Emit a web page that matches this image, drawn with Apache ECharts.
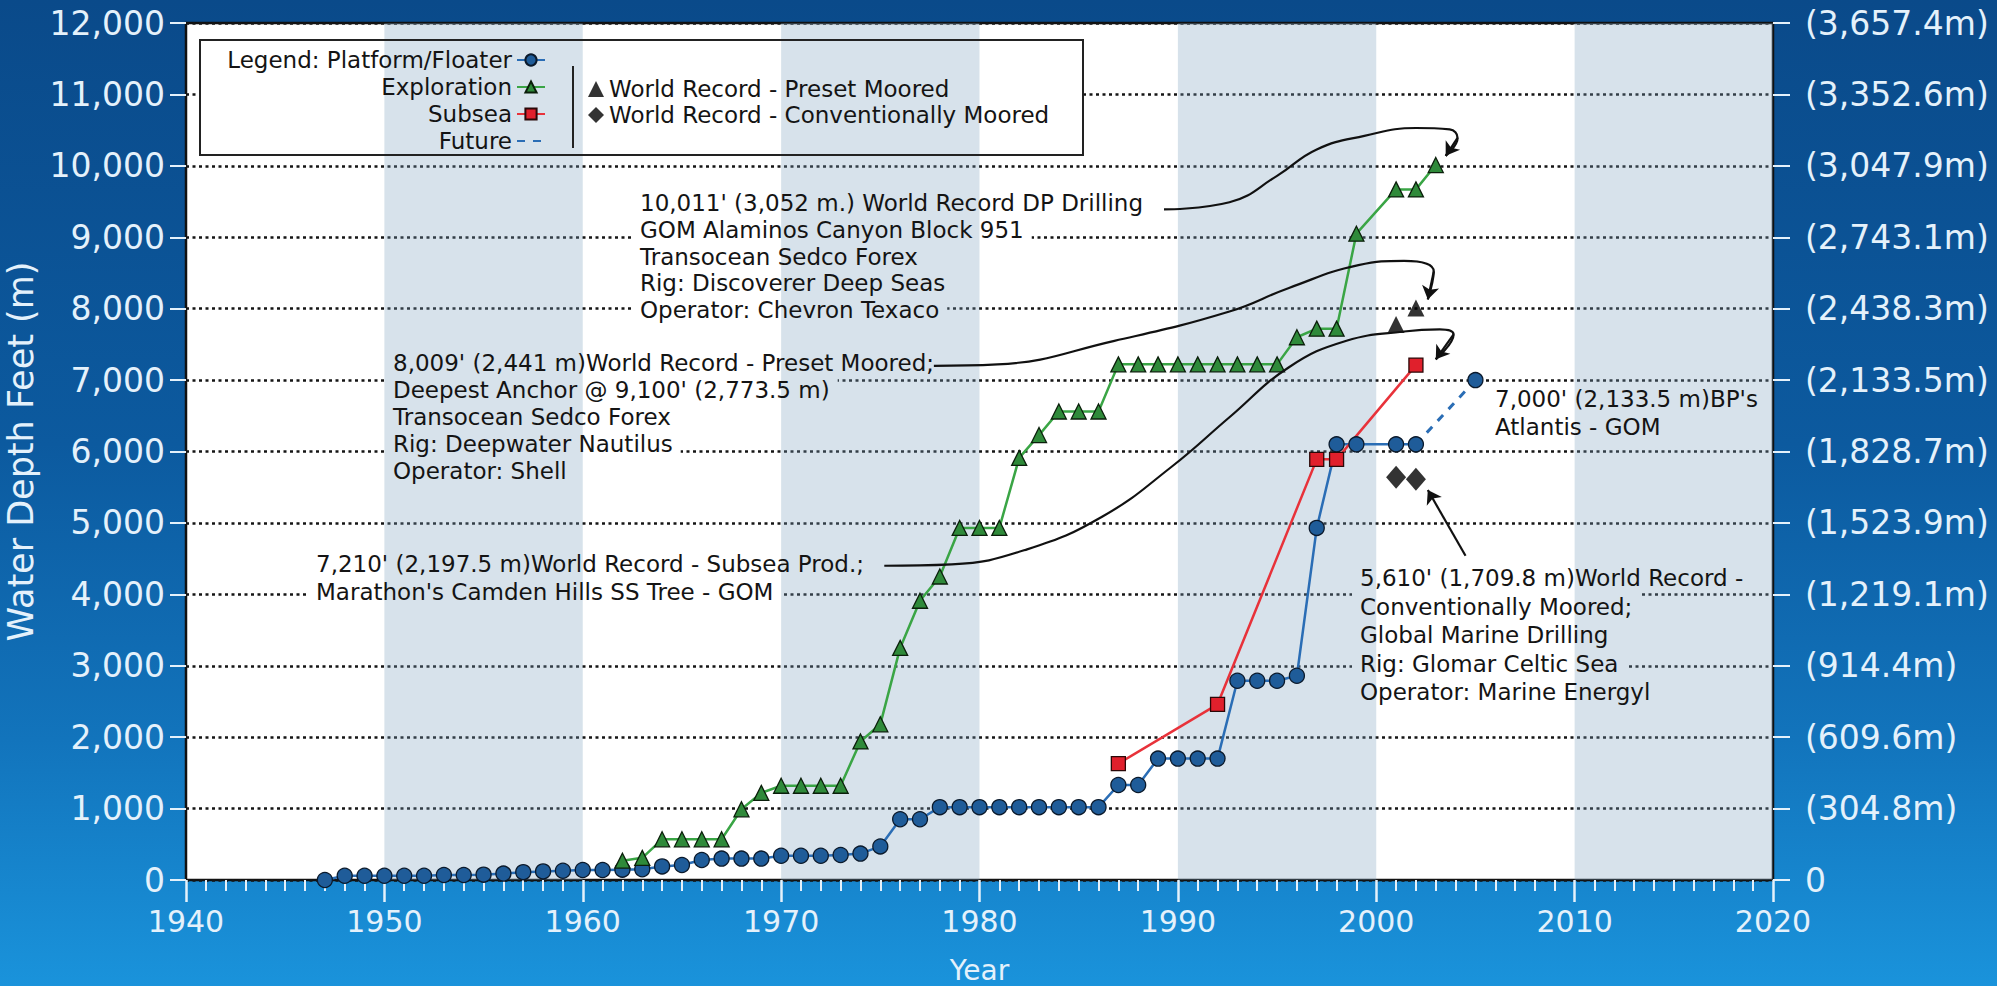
<!DOCTYPE html>
<html>
<head>
<meta charset="utf-8">
<title>Water Depth Records</title>
<script src="https://cdn.jsdelivr.net/npm/echarts@6/dist/echarts.min.js"></script>
<style>
  html, body { margin: 0; padding: 0; }
  #chart {
    width: 1997px;
    height: 986px;
    background: linear-gradient(180deg, #0a4a8a 0%, #0c5a9f 45%, #1274bc 75%, #1a93db 100%);
  }
</style>
</head>
<body>
<div id="chart"></div>
<script>
const FONT = '"DejaVu Sans", sans-serif'
const LIGHT = '#e4f1fb'

// data
const platformYears = [1947, 1948, 1949, 1950, 1951, 1952, 1953, 1954, 1955, 1956, 1957, 1958, 1959, 1960,
  1961, 1962, 1963, 1964, 1965, 1966, 1967, 1968, 1969, 1970, 1971, 1972, 1973, 1974, 1975, 1976, 1977,
  1978, 1979, 1980, 1981, 1982, 1983, 1984, 1985, 1986, 1987, 1988, 1989, 1990, 1991, 1992, 1993, 1994,
  1995, 1996, 1997, 1998, 1999, 2001, 2002]
const platformDepth = [0, 60, 60, 60, 60, 60, 70, 70, 75, 90, 110, 120, 130, 140,
  140, 145, 150, 190, 210, 280, 300, 300, 300, 340, 340, 340, 350, 370, 470, 850, 850,
  1020, 1020, 1020, 1020, 1020, 1020, 1020, 1020, 1020, 1330, 1330, 1700, 1700, 1700, 1700, 2790, 2790,
  2790, 2860, 4930, 6100, 6100, 6100, 6100]

const explorationYears = [1962, 1963, 1964, 1965, 1966, 1967, 1968, 1969, 1970, 1971, 1972, 1973, 1974,
  1975, 1976, 1977, 1978, 1979, 1980, 1981, 1982, 1983, 1984, 1985, 1986, 1987, 1988, 1989, 1990, 1991,
  1992, 1993, 1994, 1995, 1996, 1997, 1998, 1999, 2001, 2002, 2003]
const explorationDepth = [270, 310, 570, 570, 570, 570, 990, 1220, 1320, 1320, 1320, 1320, 1940,
  2180, 3250, 3910, 4250, 4930, 4930, 4930, 5910, 6230, 6560, 6560, 6560, 7220, 7220, 7220, 7220, 7220,
  7220, 7220, 7220, 7220, 7600, 7720, 7720, 9050, 9670, 9670, 10011]

const subseaYears = [1987, 1992, 1997, 1998, 2002]
const subseaDepth = [1630, 2460, 5890, 5890, 7210]

const futureYears = [2002, 2005]
const futureDepth = [6100, 7000]

const presetYears = [2001, 2002]
const presetDepth = [7780, 8009]

const conventionalYears = [2001, 2002]
const conventionalDepth = [5640, 5610]

const bandStarts = [1950, 1970, 1990, 2010]
const bandEnds = [1960, 1980, 2000, 2020]

const leftTickLabels = ['0', '1,000', '2,000', '3,000', '4,000', '5,000', '6,000', '7,000', '8,000',
  '9,000', '10,000', '11,000', '12,000']
const rightTickLabels = ['0', '(304.8m)', '(609.6m)', '(914.4m)', '(1,219.1m)', '(1,523.9m)', '(1,828.7m)',
  '(2,133.5m)', '(2,438.3m)', '(2,743.1m)', '(3,047.9m)', '(3,352.6m)', '(3,657.4m)']

// annotation text blocks (pixel layout) and arrow paths (year, feet)
const notes = [
  { x: 640, y: 203, step: 26.8, lines: ["10,011' (3,052 m.) World Record DP Drilling", 'GOM Alaminos Canyon Block 951',
    'Transocean Sedco Forex', 'Rig: Discoverer Deep Seas', 'Operator: Chevron Texaco'] },
  { x: 393, y: 363, step: 27, lines: ["8,009' (2,441 m)World Record - Preset Moored;", "Deepest Anchor @ 9,100' (2,773.5 m)",
    'Transocean Sedco Forex', 'Rig: Deepwater Nautilus', 'Operator: Shell'] },
  { x: 316, y: 564, step: 27.5, lines: ["7,210' (2,197.5 m)World Record - Subsea Prod.;", "Marathon's Camden Hills SS Tree - GOM"] },
  { x: 1495, y: 399, step: 27.5, lines: ["7,000' (2,133.5 m)BP's", 'Atlantis - GOM'] },
  { x: 1360, y: 578, step: 28.5, lines: ["5,610' (1,709.8 m)World Record -", 'Conventionally Moored;',
    'Global Marine Drilling', 'Rig: Glomar Celtic Sea', 'Operator: Marine Energyl'] }
]
const arrowPaths = [
  [[1989.3, 9390], [1992.6, 9490], [1995.0, 9860], [1997.0, 10230], [1999.4, 10420], [2002.0, 10530],
    [2003.7, 10510], [2004.1, 10390], [2003.5, 10140]],
  [[1977.7, 7200], [1980.9, 7220], [1986.8, 7550], [1992.6, 7960], [1995.6, 8290], [1999.1, 8610],
    [2001.4, 8670], [2002.9, 8520], [2002.6, 8130]],
  [[1975.2, 4400], [1978.6, 4420], [1982.4, 4630], [1986.2, 5090], [1989.7, 5790], [1992.6, 6480],
    [1995.6, 7180], [1998.5, 7550], [2001.4, 7680], [2003.2, 7710], [2003.9, 7640], [2003.0, 7290]],
  [[2004.5, 4540], [2002.6, 5460]]
]

function zip(xs, ys) {
  return xs.map((x, i) => [x, ys[i]])
}

const ctx = document.createElement('canvas').getContext('2d')
ctx.font = '23px "DejaVu Sans"'

const graphics = []
// legend frame: white fill under the bands, border on top
graphics.push({ type: 'rect', z: 1, silent: true, shape: { x: 200, y: 40, width: 883, height: 115 }, style: { fill: '#fff' } })
graphics.push({ type: 'rect', z: 20, silent: true, shape: { x: 200, y: 40, width: 883, height: 115 }, style: { fill: 'none', stroke: '#222', lineWidth: 2 } })
graphics.push({ type: 'line', z: 20, silent: true, shape: { x1: 573, y1: 66, x2: 573, y2: 148 }, style: { stroke: '#222', lineWidth: 2 } })

notes.forEach(n => {
  n.lines.forEach((t, i) => {
    const y = n.y + i * n.step
    const w = ctx.measureText(t).width
    graphics.push({ type: 'rect', z: 1, silent: true, shape: { x: n.x - 8, y: y - n.step / 2, width: w + 16, height: n.step }, style: { fill: '#fff' } })
    graphics.push({ type: 'text', z: 20, silent: true, x: n.x, y: y,
      style: { text: t, fill: '#141414', fontSize: 23, fontFamily: FONT, verticalAlign: 'middle', align: 'left' } })
  })
})

const lineCommon = { type: 'line', showAllSymbol: true, z: 4 }

const series = [
  {
    type: 'custom',
    name: 'bands',
    z: 2,
    silent: true,
    data: zip(bandStarts, bandEnds),
    encode: { x: [0, 1] },
    renderItem: function(params, api) {
      const p0 = api.coord([api.value(0), 12000])
      const p1 = api.coord([api.value(1), 0])
      return {
        type: 'rect',
        shape: { x: p0[0], y: p0[1], width: p1[0] - p0[0], height: p1[1] - p0[1] },
        style: { fill: 'rgba(122,158,188,0.3)' }
      }
    }
  },
  Object.assign({}, lineCommon, {
    name: 'Platform/Floater',
    data: zip(platformYears, platformDepth),
    symbol: 'circle',
    symbolSize: 15,
    itemStyle: { color: '#1f5c99', borderColor: '#0b1a2c', borderWidth: 1.3 },
    lineStyle: { color: '#2a6db5', width: 2.5 }
  }),
  Object.assign({}, lineCommon, {
    name: 'Exploration',
    data: zip(explorationYears, explorationDepth),
    symbol: 'triangle',
    symbolSize: 15,
    z: 5,
    itemStyle: { color: '#2f8a3a', borderColor: '#0b1f0b', borderWidth: 1.3 },
    lineStyle: { color: '#3aa545', width: 2.5 }
  }),
  Object.assign({}, lineCommon, {
    name: 'Subsea',
    data: zip(subseaYears, subseaDepth),
    symbol: 'rect',
    symbolSize: 14,
    itemStyle: { color: '#e0202c', borderColor: '#2a0808', borderWidth: 1.3 },
    lineStyle: { color: '#e8323a', width: 2.5 }
  }),
  Object.assign({}, lineCommon, {
    name: 'Future',
    data: zip(futureYears, futureDepth).map((p, i) => i === futureYears.length - 1
      ? { value: p, symbol: 'circle', symbolSize: 15, itemStyle: { color: '#1f5c99', borderColor: '#0b1a2c', borderWidth: 1.3 } }
      : { value: p, symbol: 'none' }),
    symbol: 'none',
    z: 3,
    itemStyle: { color: '#2a6db5' },
    lineStyle: { color: '#2a6db5', width: 3, type: [8, 8] }
  }),
  {
    type: 'scatter',
    name: 'World Record - Preset Moored',
    data: zip(presetYears, presetDepth),
    symbol: 'triangle',
    symbolSize: 17,
    z: 5,
    itemStyle: { color: '#000' }
  },
  {
    type: 'scatter',
    name: 'World Record - Conventionally Moored',
    data: zip(conventionalYears, conventionalDepth),
    symbol: 'diamond',
    symbolSize: [20, 23],
    z: 5,
    itemStyle: { color: '#000' }
  }
]

// annotation arrows: smooth curve plus an arrow head on the last step
arrowPaths.forEach((path, i) => {
  if (path.length > 2) {
    series.push({ type: 'line', name: 'arrow' + i, data: path, smooth: 0.45, symbol: 'none', silent: true, z: 6,
      lineStyle: { color: '#111', width: 2.2 } })
  }
})
series.push({
  type: 'lines',
  coordinateSystem: 'cartesian2d',
  silent: true,
  z: 6,
  symbol: ['none', 'arrow'],
  symbolSize: 13,
  lineStyle: { color: '#111', width: 2.2, opacity: 1 },
  data: arrowPaths.map(p => ({ coords: p.slice(-2) }))
})

const legendText = { color: '#141414', fontSize: 23, fontFamily: FONT, lineHeight: 24 }

const option = {
  animation: false,
  backgroundColor: 'transparent',
  textStyle: { fontFamily: FONT },
  grid: {
    left: 186, right: 224, top: 23, bottom: 106,
    outerBoundsMode: 'none',
    show: true, backgroundColor: '#fff', borderColor: '#111', borderWidth: 2.5
  },
  legend: [
    {
      data: ['Platform/Floater', 'Exploration', 'Subsea', { name: 'Future', itemStyle: { opacity: 0 } }],
      orient: 'vertical', align: 'right', right: 1451, top: 48, padding: 0,
      itemWidth: 28, itemHeight: 14, itemGap: 3, selectedMode: false, z: 10,
      textStyle: legendText,
      formatter: function(name) {
        return name === 'Platform/Floater' ? 'Legend: ' + name : name
      }
    },
    {
      data: ['World Record - Preset Moored', 'World Record - Conventionally Moored'],
      orient: 'vertical', align: 'left', left: 588, top: 77, padding: 0,
      itemWidth: 16, itemHeight: 16, itemGap: 2, selectedMode: false, z: 10,
      textStyle: legendText
    }
  ],
  xAxis: {
    type: 'value', min: 1940, max: 2020, interval: 10,
    name: 'Year', nameLocation: 'middle', nameGap: 76,
    nameTextStyle: { color: LIGHT, fontSize: 28, fontFamily: FONT },
    axisLine: { show: false },
    axisTick: { show: true, length: 22, lineStyle: { color: LIGHT, width: 2.5 } },
    minorTick: { show: true, splitNumber: 10, length: 11, lineStyle: { color: LIGHT, width: 2 } },
    axisLabel: { color: LIGHT, fontSize: 30, margin: 26, fontFamily: FONT, formatter: v => String(v) },
    splitLine: { show: false }
  },
  yAxis: [
    {
      type: 'value', min: 0, max: 12000, interval: 1000, position: 'left',
      name: 'Water Depth Feet (m)', nameLocation: 'middle', nameGap: 128, nameRotate: 90,
      nameTextStyle: { color: LIGHT, fontSize: 35, fontFamily: FONT },
      axisLine: { show: false },
      axisTick: { show: true, length: 16, lineStyle: { color: LIGHT, width: 2 } },
      axisLabel: {
        color: LIGHT, fontSize: 33, margin: 21, fontFamily: FONT,
        formatter: v => leftTickLabels[Math.round(v / 1000)]
      },
      splitLine: { show: true, lineStyle: { color: '#151515', type: [3, 3.5], width: 2.5 } }
    },
    {
      type: 'value', min: 0, max: 12000, interval: 1000, position: 'right',
      axisLine: { show: false },
      axisTick: { show: true, length: 17, lineStyle: { color: LIGHT, width: 2 } },
      axisLabel: {
        color: LIGHT, fontSize: 33, margin: 32, fontFamily: FONT,
        formatter: v => rightTickLabels[Math.round(v / 1000)]
      },
      splitLine: { show: false }
    }
  ],
  graphic: { elements: graphics },
  series: series
}

const chart = echarts.init(document.getElementById('chart'), null, { renderer: 'svg' })
chart.setOption(option)
</script>
</body>
</html>
